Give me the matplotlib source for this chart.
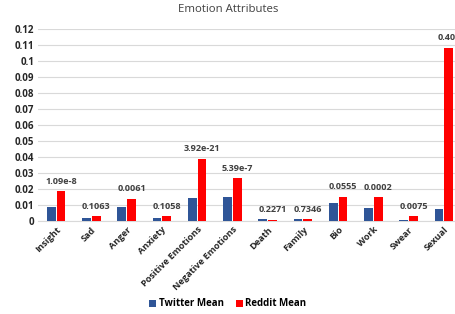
import matplotlib
matplotlib.use("Agg")
import matplotlib.pyplot as plt
import numpy as np

plt.rcParams['font.family'] = ['Open Sans', 'DejaVu Sans']

categories = ["Insight", "Sad", "Anger", "Anxiety", "Positive Emotions", "Negative Emotions",
              "Death", "Family", "Bio", "Work", "Swear", "Sexual"]
twitter_mean = [0.0086, 0.0019, 0.0090, 0.0019, 0.0144, 0.0150, 0.0013, 0.0013, 0.0110, 0.0081, 0.0009, 0.0075]
reddit_mean = [0.0188, 0.0031, 0.0140, 0.0031, 0.0390, 0.0270, 0.0007, 0.0011, 0.0152, 0.0148, 0.0031, 0.1083]
p_values = ["1.09e-8", "0.1063", "0.0061", "0.1058", "3.92e-21", "5.39e-7",
            "0.2271", "0.7346", "0.0555", "0.0002", "0.0075", "0.404"]
yticks = [0, 0.01, 0.02, 0.03, 0.04, 0.05, 0.06, 0.07, 0.08, 0.09, 0.1, 0.11, 0.12]
ytick_labels = ["0", "0.01", "0.02", "0.03", "0.04", "0.05", "0.06", "0.07", "0.08", "0.09", "0.1", "0.11", "0.12"]

fig = plt.figure(figsize=(4.56, 3.14), dpi=100)
ax = fig.add_axes([38.5/456, 1-221/314, 423/456, (221-29)/314])

x = np.arange(len(categories))
w = 0.25
off = w/2 + 0.015
ax.bar(x - off, twitter_mean, w, color="#2F5597", label="Twitter Mean", zorder=3)
ax.bar(x + off, reddit_mean, w, color="#FF0000", label="Reddit Mean", zorder=3)

for xi, t, r, p in zip(x, twitter_mean, reddit_mean, p_values):
    ax.text(xi + off, max(t, r) + 0.0033, p, ha="center", va="bottom", fontsize=6.6,
            fontweight="bold", color="#404040", zorder=4, clip_on=False)

ax.set_xlim(-0.5, len(categories) - 0.5)
ax.set_ylim(0, 0.12)
ax.set_yticks(yticks)
ax.set_yticklabels(ytick_labels, fontsize=7, fontweight="bold", color="#262626")
ax.set_xticks(x)
ax.set_xticklabels(categories, rotation=45, ha="right", rotation_mode="anchor",
                   fontsize=6.6, fontweight="bold", color="#262626")
ax.tick_params(axis="both", length=0, pad=3)
ax.yaxis.grid(True, color="#D9D9D9", linewidth=0.8, zorder=0)
for s in ["top", "right", "left"]:
    ax.spines[s].set_visible(False)
ax.spines["bottom"].set_color("#D9D9D9")

fig.text(0.5, 1 - 10/314, "Emotion Attributes", ha="center", va="center", fontsize=8.2, color="#404040")

handles, labels = ax.get_legend_handles_labels()
fig.legend(handles, labels, loc="center", bbox_to_anchor=(0.5, 1 - 304/314), ncol=2,
           frameon=False, prop={"weight": "bold", "size": 7},
           handlelength=0.7, handleheight=0.7, handletextpad=0.3, columnspacing=1.2)

fig.savefig("out.png", dpi=100)
